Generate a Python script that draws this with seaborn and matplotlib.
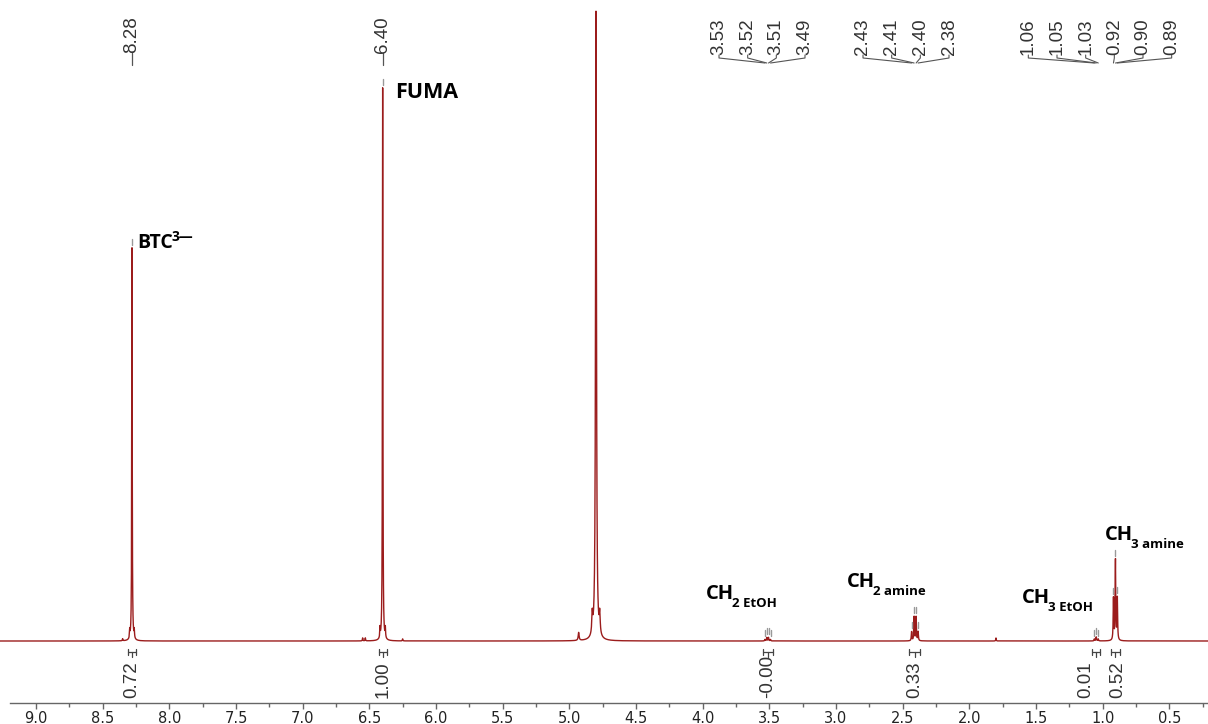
import numpy as np
import pandas as pd
import matplotlib
matplotlib.use("Agg")
import matplotlib.pyplot as plt
import seaborn as sns
from matplotlib.ticker import MultipleLocator, FixedLocator, FormatStrFormatter

# ================= PEAK LIST (ppm, height above baseline, FWHM) =================
btc_ppm = [8.350, 8.297, 8.280, 8.263]
btc_height = [2, 8, 393, 8]
fuma_ppm = [6.550, 6.530, 6.420, 6.400, 6.380, 6.250]
fuma_height = [3, 3, 10, 553, 10, 2]
water_ppm = [4.930, 4.828, 4.800, 4.772]
water_height = [8, 20, 629, 20]
ch2_etoh_ppm = [3.533, 3.519, 3.506, 3.491]
ch2_etoh_height = [1.5, 3.5, 3.5, 1.5]
ch2_amine_ppm = [2.433, 2.414, 2.399, 2.384]
ch2_amine_height = [9, 24, 24, 9]
misc_ppm = [1.80]
misc_height = [3]
ch3_etoh_ppm = [1.062, 1.048, 1.033]
ch3_etoh_height = [2, 4, 2]
ch3_amine_ppm = [0.919, 0.904, 0.890]
ch3_amine_height = [42, 80, 42]

peak_groups = [
    (btc_ppm, btc_height, 0.004),
    (fuma_ppm, fuma_height, 0.004),
    (water_ppm, water_height, 0.008),
    (ch2_etoh_ppm, ch2_etoh_height, 0.005),
    (ch2_amine_ppm, ch2_amine_height, 0.005),
    (misc_ppm, misc_height, 0.004),
    (ch3_etoh_ppm, ch3_etoh_height, 0.005),
    (ch3_amine_ppm, ch3_amine_height, 0.005),
]

# peak picking labels on top
single_labels = [8.28, 6.40]
multiplets = [ch2_etoh_ppm, ch2_amine_ppm, ch3_etoh_ppm + ch3_amine_ppm]
multiplet_centers = [3.555, 2.475, 1.02]

# integrals
integral_values = ['0.72', '1.00', '-0.00', '0.33', '0.01', '0.52']
integral_from = [8.31, 6.43, 3.55, 2.45, 1.08, 0.94]
integral_to = [8.25, 6.37, 3.47, 2.37, 1.02, 0.87]
integral_label_ppm = [8.28, 6.40, 3.51, 2.41, 1.13, 0.885]

# assignments
assign_main = ['CH', 'CH', 'CH', 'CH']
assign_sub = ['2 EtOH', '2 amine', '3 EtOH', '3 amine']
assign_ppm = [3.975, 2.917, 1.605, 0.98]
assign_y = [42, 54, 38, 101]

LINE_COLOR = '#9b1c1c'
GRAY = '#555555'


def lorentz(x, x0, h, w):
    return h / (1 + ((x - x0) / (w / 2)) ** 2)


ppm = np.arange(0.21, 9.27, 0.0004)
intensity = np.zeros_like(ppm)
for pos, hts, fw in peak_groups:
    for p, h in zip(pos, hts):
        intensity += lorentz(ppm, p, h, fw)
df = pd.DataFrame({'ppm': ppm, 'intensity': intensity})


def height_at(p):
    return float(np.interp(p, ppm, intensity))


sns.set_theme(style='white')
plt.rcParams['font.family'] = ['DejaVu Sans']

fig = plt.figure(figsize=(12.08, 7.24), dpi=100)
ax = fig.add_axes([0, 21 / 724, 1, 703 / 724])
sns.lineplot(data=df, x='ppm', y='intensity', ax=ax, color=LINE_COLOR,
             lw=1.0, estimator=None, sort=False)
ax.set_xlim(9.27, 0.21)
ax.set_ylim(-62, 641)

# --- axis styling ---
for s in ['top', 'left', 'right']:
    ax.spines[s].set_visible(False)
ax.spines['bottom'].set_color('#666666')
ax.spines['bottom'].set_linewidth(1.0)
ax.spines['bottom'].set_bounds(9.195, 0.21)
ax.set_yticks([])
ax.set_xlabel('')
ax.set_ylabel('')
ax.xaxis.set_major_locator(MultipleLocator(0.5))
ax.xaxis.set_minor_locator(FixedLocator(np.arange(0.25, 9.01, 0.25)))
ax.xaxis.set_major_formatter(FormatStrFormatter('%.1f'))
ax.tick_params(axis='x', which='major', direction='out', length=4, width=1,
               color='#666666', pad=1.5, labelsize=10.5, labelcolor='#222222', bottom=True)
ax.tick_params(axis='x', which='minor', direction='out', length=3, width=1,
               color='#666666', bottom=True)

label_font = dict(family='Liberation Sans', fontsize=13.5, color='#333333')

# --- single peak labels ---
for p in single_labels:
    ax.text(p, 588, f'{p:.2f}', rotation=90, ha='center', va='bottom', **label_font)
    ax.plot([p, p], [588, 576], color=GRAY, lw=0.9)
    top = height_at(p)
    ax.plot([p, p], [top + 3, top + 9], color='#999999', lw=1.0)

# --- multiplet labels with fan lines ---
spacing = 0.215
for group, center in zip(multiplets, multiplet_centers):
    n = len(group)
    for i, p in enumerate(group):
        lx = center + ((n - 1) / 2 - i) * spacing
        ax.text(lx, 586, f'{p:.2f}', rotation=90, ha='center', va='bottom', **label_font)
        ax.plot([lx, lx, p], [586, 583, 578], color=GRAY, lw=0.8)
        top = height_at(p)
        ax.plot([p, p], [top + 3, top + 9], color='#999999', lw=1.0)

# --- integrals ---
for val, a, b, lp in zip(integral_values, integral_from, integral_to, integral_label_ppm):
    mid = (a + b) / 2
    ax.plot([a, b], [-11, -11], color='#444444', lw=0.9)
    ax.plot([a, a], [-8, -14], color='#444444', lw=0.9)
    ax.plot([b, b], [-8, -14], color='#444444', lw=0.9)
    ax.plot([mid, mid], [-11, -16], color='#444444', lw=0.9)
    ax.text(lp, -57, val, rotation=90, ha='center', va='bottom', **label_font)

# --- compound labels ---
bold = dict(family='Open Sans', weight='bold', color='black')
ax.text(6.307, 548, 'FUMA', ha='left', va='center', fontsize=15.5, **bold)
t = ax.text(8.243, 398, 'BTC', ha='left', va='center', fontsize=14, **bold)
ax.annotate('3—', xy=(1, 1), xycoords=t, xytext=(-1, 2), textcoords='offset points',
            ha='left', va='top', fontsize=10, **bold)

for main, sub, px, py in zip(assign_main, assign_sub, assign_ppm, assign_y):
    t = ax.text(px, py, main, ha='left', va='baseline', fontsize=14.5, **bold)
    ax.annotate(sub, xy=(1, 0), xycoords=t, xytext=(-1.5, -4), textcoords='offset points',
                ha='left', va='bottom', fontsize=9.5, **bold)

fig.savefig('out.png', dpi=100)
